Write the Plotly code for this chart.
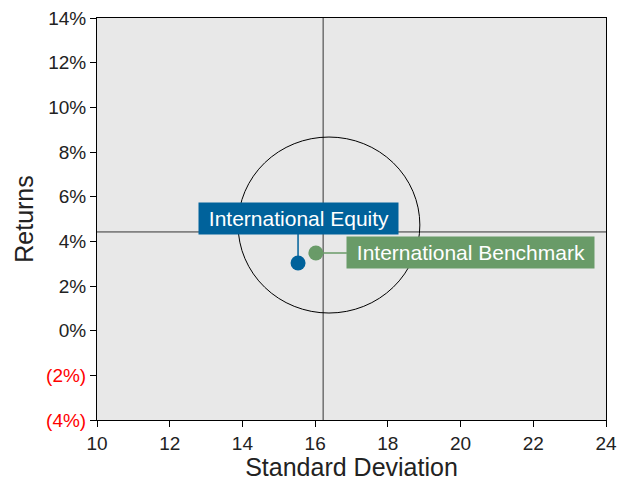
import plotly.graph_objects as go

# Data
names = ["International Equity", "International Benchmark"]
std_dev = [15.53, 16.02]
returns = [3.03, 3.48]
colors = ["#00629B", "#699B68"]
label_offsets = [(0, -45), (155, 0)]

avg_std = 16.22
avg_ret = 4.42

circle_cx, circle_cy = 16.38, 4.73
circle_rx, circle_ry = 2.50, 3.94

y_tickvals = [-4, -2, 0, 2, 4, 6, 8, 10, 12, 14]
y_ticktext = ["<span style='color:red'>(4%)</span>", "<span style='color:red'>(2%)</span>",
              "0%", "2%", "4%", "6%", "8%", "10%", "12%", "14%"]
x_tickvals = [10, 12, 14, 16, 18, 20, 22, 24]

fig = go.Figure()
for n, x, y, c in zip(names, std_dev, returns, colors):
    fig.add_trace(go.Scatter(x=[x], y=[y], mode="markers", name=n,
                             marker=dict(size=15, color=c), showlegend=False))

shapes = [
    dict(type="circle", xref="x", yref="y",
         x0=circle_cx - circle_rx, x1=circle_cx + circle_rx,
         y0=circle_cy - circle_ry, y1=circle_cy + circle_ry,
         line=dict(color="black", width=1), layer="below"),
    dict(type="line", xref="x", yref="paper", x0=avg_std, x1=avg_std, y0=0, y1=1,
         line=dict(color="#333", width=1), layer="below"),
    dict(type="line", xref="paper", yref="y", x0=0, x1=1, y0=avg_ret, y1=avg_ret,
         line=dict(color="#333", width=1), layer="below"),
]

annotations = []
for n, x, y, c, (ax, ay) in zip(names, std_dev, returns, colors, label_offsets):
    annotations.append(dict(
        x=x, y=y, xref="x", yref="y", text="&nbsp;" + n + "&nbsp;", showarrow=True,
        ax=ax, ay=ay, arrowhead=0, arrowwidth=1.5, arrowcolor=c,
        bgcolor=c, borderpad=4, font=dict(color="white", size=21,
                                          family="Liberation Sans, Arial"),
    ))

fig.update_layout(
    width=622, height=473,
    margin=dict(l=89, r=24, t=10, b=61),
    plot_bgcolor="#E8E8E8", paper_bgcolor="white",
    font=dict(family="Liberation Sans, Arial", size=19, color="#222"),
    shapes=shapes, annotations=annotations,
    xaxis=dict(range=[10, 24], tickvals=x_tickvals, showgrid=False, zeroline=False,
               showline=True, linecolor="black", linewidth=1, mirror=True,
               ticks="outside", ticklen=6, tickcolor="black", automargin=False,
               ticklabeloverflow="allow",
               title=dict(text="Standard Deviation", font=dict(size=25), standoff=12)),
    yaxis=dict(range=[-4, 14], tickvals=y_tickvals, ticktext=y_ticktext,
               showgrid=False, zeroline=False,
               showline=True, linecolor="black", linewidth=1, mirror=True,
               ticks="outside", ticklen=6, tickcolor="black", automargin=False,
               ticklabeloverflow="allow",
               title=dict(text="Returns", font=dict(size=25), standoff=5)),
)

fig.write_html("out.html")
